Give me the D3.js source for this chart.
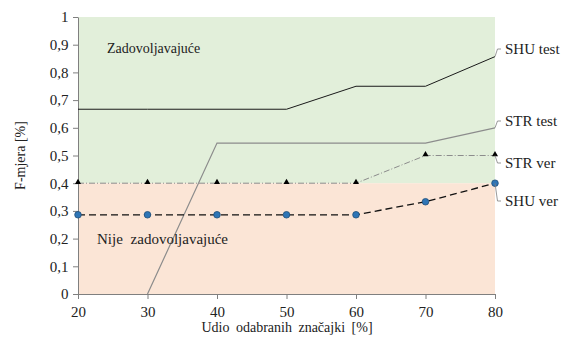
<!DOCTYPE html>
<html><head><meta charset="utf-8">
<script src="https://cdn.jsdelivr.net/npm/d3@7"></script>
<style>body{margin:0;background:#fff}svg{display:block}svg text{font-family:'Liberation Serif','Times New Roman',serif}</style>
</head><body>
<svg id="c" width="562" height="338"></svg>
<script>
const xValues = [20, 30, 40, 50, 60, 70, 80];
const shuTest = [0.667, 0.667, 0.667, 0.667, 0.75, 0.75, 0.857];
const strTest = [null, 0, 0.545, 0.545, 0.545, 0.545, 0.6];
const strVer = [0.4, 0.4, 0.4, 0.4, 0.4, 0.5, 0.5];
const shuVer = [0.286, 0.286, 0.286, 0.286, 0.286, 0.333, 0.4];
const yTicks = [0, 0.1, 0.2, 0.3, 0.4, 0.5, 0.6, 0.7, 0.8, 0.9, 1];
const threshold = 0.4;
const seriesNames = ["SHU test", "STR test", "STR ver", "SHU ver"];

const svg = d3.select("#c");
const x = d3.scaleLinear().domain([20, 80]).range([78, 495]);
const y = d3.scaleLinear().domain([0, 1]).range([294, 17]);

svg.append("rect").attr("x", x(20)).attr("y", y(1)).attr("width", x(80) - x(20)).attr("height", y(threshold) - y(1)).attr("fill", "#e2efda");
svg.append("rect").attr("x", x(20)).attr("y", y(threshold)).attr("width", x(80) - x(20)).attr("height", y(0) - y(threshold)).attr("fill", "#fbe5d6");

const fmt = d => d3.format(".1~f")(d).replace(".", ",");
const yAxis = svg.append("g").attr("transform", `translate(${x(20)},0)`)
  .call(d3.axisLeft(y).tickValues(yTicks).tickFormat(fmt).tickSize(5).tickSizeOuter(0));
const xAxis = svg.append("g").attr("transform", `translate(0,${y(0)})`)
  .call(d3.axisBottom(x).tickValues(xValues).tickFormat(d3.format("d")).tickSize(5).tickSizeOuter(0));
[yAxis, xAxis].forEach(g => {
  g.attr("font-family", null);
  g.selectAll("path,line").attr("stroke", "#7f7f7f");
  g.selectAll("text").attr("font-size", 15).attr("fill", "#222");
});
yAxis.selectAll("text").attr("x", -9.5);
xAxis.selectAll("text").attr("y", 12);

const data = s => xValues.map((v, i) => ({x: v, y: s[i]})).filter(d => d.y !== null);
const line = d3.line().x(d => x(d.x)).y(d => y(d.y));

svg.append("path").datum(data(strTest)).attr("d", line).attr("fill", "none").attr("stroke", "#8c8c8c").attr("stroke-width", 1.2);
svg.append("path").datum(data(shuTest)).attr("d", line).attr("fill", "none").attr("stroke", "#1a1a1a").attr("stroke-width", 1);
svg.append("path").datum(data(strVer)).attr("d", line).attr("fill", "none").attr("stroke", "#8c8c8c").attr("stroke-width", 1).attr("stroke-dasharray", "6,2,1,2");
svg.append("path").datum(data(shuVer)).attr("d", line).attr("fill", "none").attr("stroke", "#111").attr("stroke-width", 1.3).attr("stroke-dasharray", "7,4");

svg.append("g").selectAll("path").data(data(strVer)).join("path")
  .attr("transform", d => `translate(${x(d.x)},${y(d.y) - 1})`)
  .attr("d", d3.symbol(d3.symbolTriangle, 16))
  .attr("fill", "#000");
svg.append("g").selectAll("circle").data(data(shuVer)).join("circle")
  .attr("cx", d => x(d.x)).attr("cy", d => y(d.y)).attr("r", 3.3)
  .attr("fill", "#2e75b6").attr("stroke", "#1f4e79").attr("stroke-width", 0.8);

const lastVals = [shuTest[6], strTest[6], strVer[6], shuVer[6]];
const labelY = [49, 121, 163, 201];
seriesNames.forEach((n, i) => {
  const px = x(80), py = y(lastVals[i]);
  const ly = labelY[i];
  svg.append("path")
    .attr("d", `M${px},${py} L${px + 2.5},${ly} L${px + 6},${ly}`)
    .attr("fill", "none").attr("stroke", "#7f7f7f").attr("stroke-width", 0.8);
  svg.append("text").attr("x", px + 10).attr("y", ly).attr("dy", "0.35em").attr("font-size", 15).attr("fill", "#222").text(n);
});

svg.append("text").attr("x", 107).attr("y", 53).attr("font-size", 14).attr("fill", "#222").text("Zadovoljavajuće");
svg.append("text").attr("x", 97).attr("y", 244).attr("font-size", 15).attr("fill", "#222").attr("word-spacing", 4).text("Nije zadovoljavajuće");

svg.append("text").attr("x", 287).attr("y", 332).attr("text-anchor", "middle").attr("font-size", 14).attr("fill", "#222").attr("word-spacing", 3).text("Udio odabranih značajki [%]");
svg.append("text").attr("transform", `translate(25,${y(0.5)}) rotate(-90)`).attr("text-anchor", "middle").attr("font-size", 14).attr("fill", "#222").text("F-mjera [%]");
</script>
</body></html>
